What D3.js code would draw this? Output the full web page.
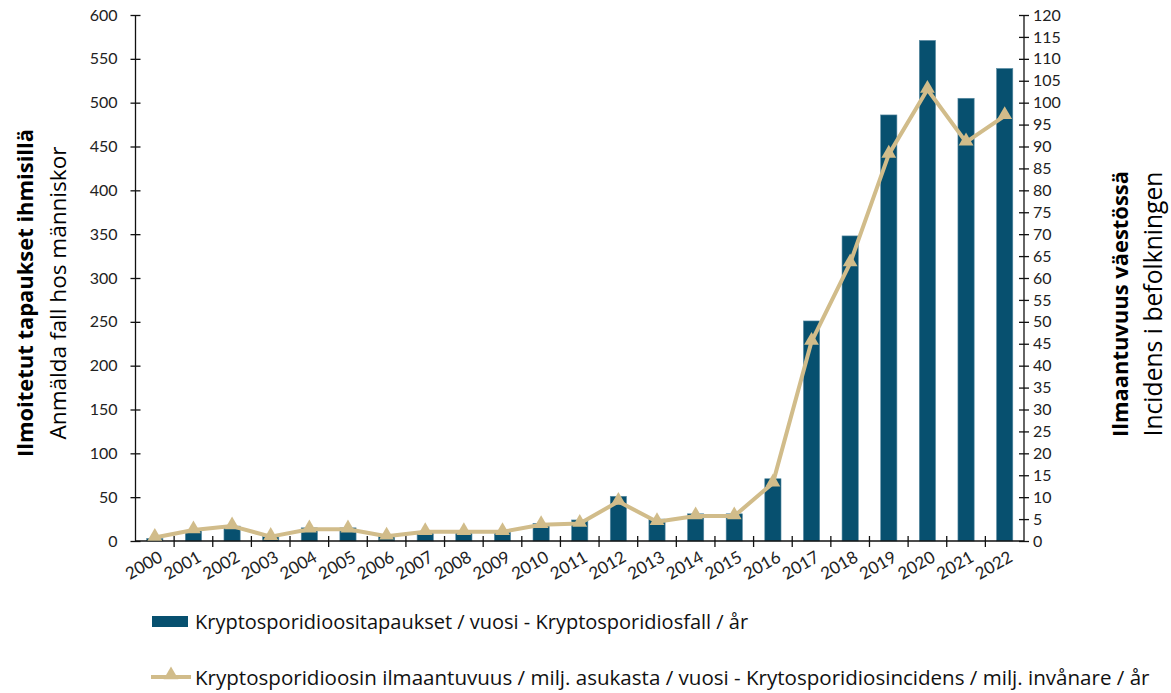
<!DOCTYPE html>
<html>
<head>
<meta charset="utf-8">
<script src="https://cdn.jsdelivr.net/npm/d3@7"></script>
<style>
  body { margin: 0; background: #fff; }
  svg { display: block; font-family: "Open Sans", Lato, sans-serif; }
</style>
</head>
<body>
<svg id="chart" width="1171" height="693"></svg>
<script>
const years = ["2000","2001","2002","2003","2004","2005","2006","2007","2008","2009","2010","2011","2012","2013","2014","2015","2016","2017","2018","2019","2020","2021","2022"];
const cases = [3,12,17,5,15,15,5,11,10,10,20,24,51,25,31,31,71,251,348,486,571,505,539];
const incidence = [0.8,2.5,3.4,1.0,2.7,2.7,1.1,2.1,2.1,2.1,3.7,4.0,9.0,4.4,5.7,5.7,13.2,45.5,63.4,88.2,103,91,97];
const leftTicks = [0,50,100,150,200,250,300,350,400,450,500,550,600];
const rightTicks = [0,5,10,15,20,25,30,35,40,45,50,55,60,65,70,75,80,85,90,95,100,105,110,115,120];
const barLabel = "Kryptosporidioositapaukset / vuosi - Kryptosporidiosfall / år";
const lineLabel = "Kryptosporidioosin ilmaantuvuus / milj. asukasta / vuosi - Krytosporidiosincidens / milj. invånare / år";
const leftTitle = ["Ilmoitetut tapaukset ihmisillä", "Anmälda fall hos människor"];
const rightTitle = ["Ilmaantuvuus väestössä", "Incidens i befolkningen"];

const barColor = "#07506f";
const lineColor = "#d1bc8a";

const svg = d3.select("#chart");
const plot = {left: 135.5, right: 1024, top: 15, bottom: 541};

const x = d3.scaleBand().domain(years).range([plot.left, plot.right]).padding(0);
const yL = d3.scaleLinear().domain([0, 600]).range([plot.bottom, plot.top]);
const yR = d3.scaleLinear().domain([0, 120]).range([plot.bottom, plot.top]);

const barW = x.bandwidth() * 0.42;

// scale a text's font size so it spans the wanted length
function fit(sel, target) {
  const fs = parseFloat(sel.attr("font-size"));
  const len = sel.node().getComputedTextLength();
  if (len > 0) sel.attr("font-size", (fs * target / len).toFixed(2));
}

// bars
svg.append("g").selectAll("rect").data(years).join("rect")
  .attr("x", (d) => x(d) + (x.bandwidth() - barW) / 2)
  .attr("y", (d, i) => yL(cases[i]))
  .attr("width", barW)
  .attr("height", (d, i) => yL(0) - yL(cases[i]))
  .attr("fill", barColor)
  .attr("stroke", "#5b8ca3").attr("stroke-width", 0.6);

// left axis
const gL = svg.append("g").attr("transform", `translate(${plot.left},0)`)
  .call(d3.axisLeft(yL).tickValues(leftTicks).tickSize(5).tickPadding(13));
gL.selectAll(".tick line").attr("x1", -5).attr("x2", 5);
gL.select(".domain").attr("d", `M0,${plot.top}V${plot.bottom}`);

// right axis
const gR = svg.append("g").attr("transform", `translate(${plot.right},0)`)
  .call(d3.axisRight(yR).tickValues(rightTicks).tickSize(5).tickPadding(4));
gR.selectAll(".tick line").attr("x1", -5).attr("x2", 5);
gR.select(".domain").attr("d", `M0,${plot.top}V${plot.bottom}`);

[gL, gR].forEach(g => {
  g.selectAll("text").attr("font-size", 16).attr("fill", "#222").style("font-family", "Lato, sans-serif");
  g.selectAll("line, path").attr("stroke", "#111").attr("stroke-width", 1.3);
});

// x axis (labels at band centers, ticks at band boundaries)
const gX = svg.append("g").attr("transform", `translate(0,${plot.bottom})`)
  .call(d3.axisBottom(x).tickSize(0).tickPadding(0));
gX.select(".domain").attr("d", `M${plot.left},0H${plot.right}`).attr("stroke", "#111").attr("stroke-width", 1.3);
gX.selectAll(".tick text")
  .attr("text-anchor", "end")
  .attr("font-size", 17)
  .attr("fill", "#222")
  .style("font-family", "Lato, sans-serif")
  .attr("transform", "translate(3,9) rotate(-30)")
  .attr("dy", "0.71em");
const bounds = years.map(d => x(d)).concat([x(years[years.length - 1]) + x.bandwidth()]);
gX.append("g").selectAll("line").data(bounds.slice(1, -1)).join("line")
  .attr("x1", d => d).attr("x2", d => d).attr("y1", -5).attr("y2", 6)
  .attr("stroke", "#111").attr("stroke-width", 1.3);

// line series
const line = d3.line().x((d, i) => x(years[i]) + x.bandwidth() / 2).y(d => yR(d));
svg.append("path").datum(incidence)
  .attr("d", line).attr("fill", "none")
  .attr("stroke", lineColor).attr("stroke-width", 4).attr("stroke-linejoin", "round");
const tri = d3.symbol().type(d3.symbolTriangle).size(95);
svg.append("g").selectAll("path").data(incidence).join("path")
  .attr("d", tri)
  .attr("transform", (d, i) => `translate(${x(years[i]) + x.bandwidth() / 2},${yR(d) - 1})`)
  .attr("fill", lineColor);

// axis titles
function vTitle(lines, xs, cy, lens) {
  lines.forEach((t, k) => {
    const el = svg.append("text")
      .attr("transform", `translate(${xs[k]},${cy}) rotate(-90)`)
      .attr("text-anchor", "middle").attr("dominant-baseline", "central")
      .attr("font-size", 21)
      .attr("font-weight", k === 0 ? 700 : 400)
      .attr("fill", "#000")
      .text(t);
    fit(el, lens[k]);
  });
}
vTitle(leftTitle, [24, 57], 293, [328, 293]);
vTitle(rightTitle, [1119, 1152], 304, [266, 265]);

// legend
const lg = svg.append("g");
lg.append("rect").attr("x", 152).attr("y", 616).attr("width", 36).attr("height", 11).attr("fill", barColor);
const t1 = lg.append("text").attr("x", 195).attr("y", 629).attr("font-size", 18).attr("fill", "#111").text(barLabel);
fit(t1, 553);
lg.append("line").attr("x1", 151).attr("x2", 191).attr("y1", 677).attr("y2", 677)
  .attr("stroke", lineColor).attr("stroke-width", 4);
lg.append("path").attr("d", tri).attr("transform", "translate(171,675)").attr("fill", lineColor);
const t2 = lg.append("text").attr("x", 195).attr("y", 685).attr("font-size", 18).attr("fill", "#111").text(lineLabel);
fit(t2, 955);
</script>
</body>
</html>
